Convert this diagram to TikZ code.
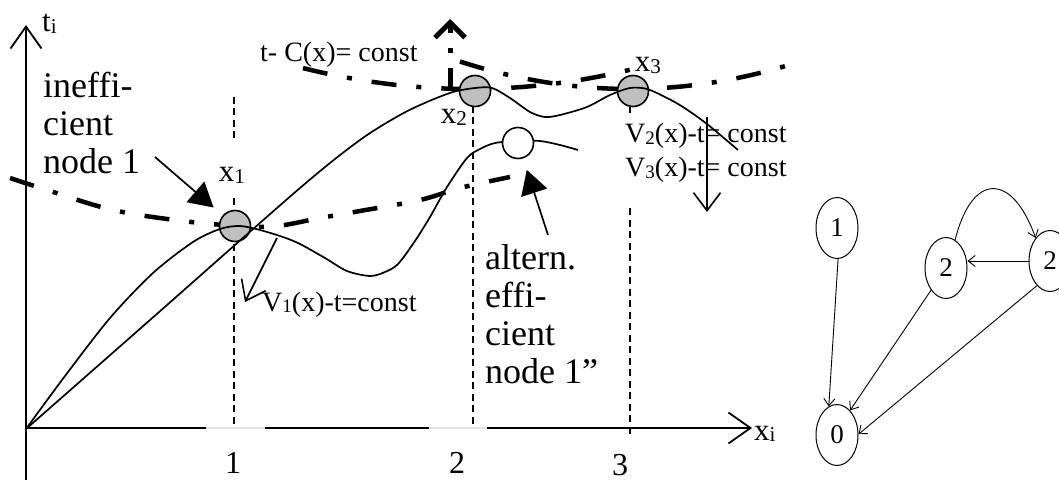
\documentclass[tikz,border=0pt]{standalone}
\usepackage{fontspec}
\setmainfont{Liberation Serif}
\usetikzlibrary{arrows.meta,shapes.geometric,positioning}
\newcommand{\idx}[1]{\raisebox{-0.12ex}{\scalebox{0.68}{#1}}}

\begin{document}
\begin{tikzpicture}[
    x=1pt, y=-1pt, inner sep=0pt,
    font=\fontsize{28}{32}\selectfont,
    axis/.style={line width=1.8pt, -{Straight Barb[length=22pt,width=31pt,line width=1.8pt]}},
    guide/.style={line width=2.6pt, dash pattern=on 7pt off 4.5pt},
    level/.style={line width=4.5pt, dash pattern=on 25pt off 20pt on 5pt off 20pt},
    curve/.style={line width=1.7pt},
    optimum/.style={circle, draw, line width=1.6pt, minimum size=31pt, fill=black!25},
    pointer/.style={line width=1.7pt, shorten >=12pt, -{Triangle[length=24pt,width=27pt]}},
    isoline/.style={line width=1.6pt, -{Straight Barb[length=18pt,width=27pt,line width=1.6pt]}},
    bigtext/.style={anchor=north west, align=left, font=\fontsize{36}{38}\selectfont},
    state/.style={ellipse, draw, line width=1pt, minimum width=42pt, minimum height=61pt, font=\fontsize{27}{29}\selectfont},
    edge/.style={line width=0.9pt, -{Straight Barb[length=7pt,width=11pt]}}
]
\useasboundingbox (0,0) rectangle (1059,481);

% axes
\draw[axis] (26,480) -- (26,25);
\draw[axis] (26,428) -- (752,428);
\draw[line width=1.8pt, black!12] (206,428) -- (265,428) (429,428) -- (487,428);
\node[anchor=base west, font=\fontsize{31}{33}\selectfont] (ti) at (42,32) {t\idx{i}};
\node[anchor=base west, font=\fontsize{31}{33}\selectfont] (xi) at (754,440) {x\idx{i}};
\node[anchor=base, font=\fontsize{32}{34}\selectfont] (one) at (233,473) {1};
\node[anchor=base, font=\fontsize{32}{34}\selectfont] (two) at (457,473) {2};
\node[anchor=base, font=\fontsize{32}{34}\selectfont] (three) at (620,475) {3};

% vertical guides
\draw[guide] (234,97) -- (234,140) (234,198) -- (234,428);
\draw[guide] (473,106) -- (473,428);
\draw[guide] (630,106) -- (630,113) (630,208) -- (630,434);

% level curves t - C(x) = const
\draw[level] plot[smooth, tension=0.6] coordinates {(10,178) (47,190) (113,210) (183,221) (240,226) (277,226) (320,218) (360,211) (420,200) (460,188) (510,177)};
\draw[level] plot[domain=303:630, samples=40] (\x, {89-7.5*((\x-470)/100)^2});
\draw[level] plot[domain=460:790, samples=40] (\x, {89-9.5*((\x-630)/100)^2});
\draw[line width=5pt, dash pattern=on 21pt off 15pt on 5pt off 15pt,
      -{Straight Barb[length=15pt,width=30pt,line width=5pt]}] (450,89) -- (450,19);

% optimal points
\node[optimum] (p1) at (235,226) {};
\node[optimum] (p2) at (475,91) {};
\node[optimum] (p3) at (633,91) {};

% V curves
\draw[curve] plot[smooth, tension=0.5] coordinates {(26,429) (65,376) (110,318) (153,273) (193,242) (220,229) (240,226) (260,230) (283,237) (300,244) (325,258) (347,271) (370,276) (385,272) (398,264) (415,241) (430,217) (447,187) (467,158) (480,149) (495,143) (518,141) (540,141) (560,145) (578,150)};
\draw[curve] plot[smooth, tension=0.5] coordinates {(26,429) (150,320) (300,188) (360,140) (400,115) (427,102) (453,92) (475,88) (492,88) (510,98) (530,112) (545,117) (560,115) (587,107) (610,95) (630,88) (647,89) (667,98) (683,107) (707,124) (738,150)};
\node[optimum, fill=white] (alt) at (518,143) {};

% labels of points
\node[anchor=base, font=\fontsize{31}{33}\selectfont] (x1) at (232,182) {x\idx{1}};
\node[anchor=base, font=\fontsize{31}{33}\selectfont] (x2) at (454,124) {x\idx{2}};
\node[anchor=base, font=\fontsize{31}{33}\selectfont] (x3) at (648,72) {x\idx{3}};
\node[anchor=base west] (tc) at (260,62) {t- C(x)= const};

\node[bigtext] (ineff) at (43,72) {ineffi-\\cient\\node 1};
\node[bigtext] (altern) at (485,244) {altern.\\effi-\\cient\\node 1”};
\coordinate (a1) at (155,157);
\coordinate (a2) at (548,235);
\draw[pointer] (a1) -- (p1);
\draw[pointer] (a2) -- (alt);

\coordinate (v1s) at (277,238);
\coordinate (v1e) at (245,302);
\draw[isoline] (v1s) -- (v1e);
\node[anchor=base west] (v1) at (262,311) {V\idx{1}(x)-t=const};

\coordinate (v2s) at (707,117);
\coordinate (v2e) at (707,212);
\draw[isoline] (v2s) -- (v2e);
\node[anchor=base west] (v2) at (625,143) {V\idx{2}(x)-t= const};
\node[anchor=base west] (v3) at (625,177) {V\idx{3}(x)-t= const};

% graph
\node[state] (n1) at (837,228) {1};
\node[state, below=145pt of n1] (n0) {0};
\node[state] (n2a) at (946,268) {2};
\node[state, right=61pt of n2a, yshift=7pt] (n2b) {2};

\draw[edge] (n1.-88) -- (n0.106);
\draw[edge] (n2a.236) -- (n0.62);
\draw[edge] (n2b.242) -- (n0.2);
\draw[edge] (n2b.west) -- (n2a.east |- n2b.west);
\draw[edge] (n2a.72) .. controls (972,172) and (1012,172) .. (n2b.122);
\end{tikzpicture}
\end{document}
